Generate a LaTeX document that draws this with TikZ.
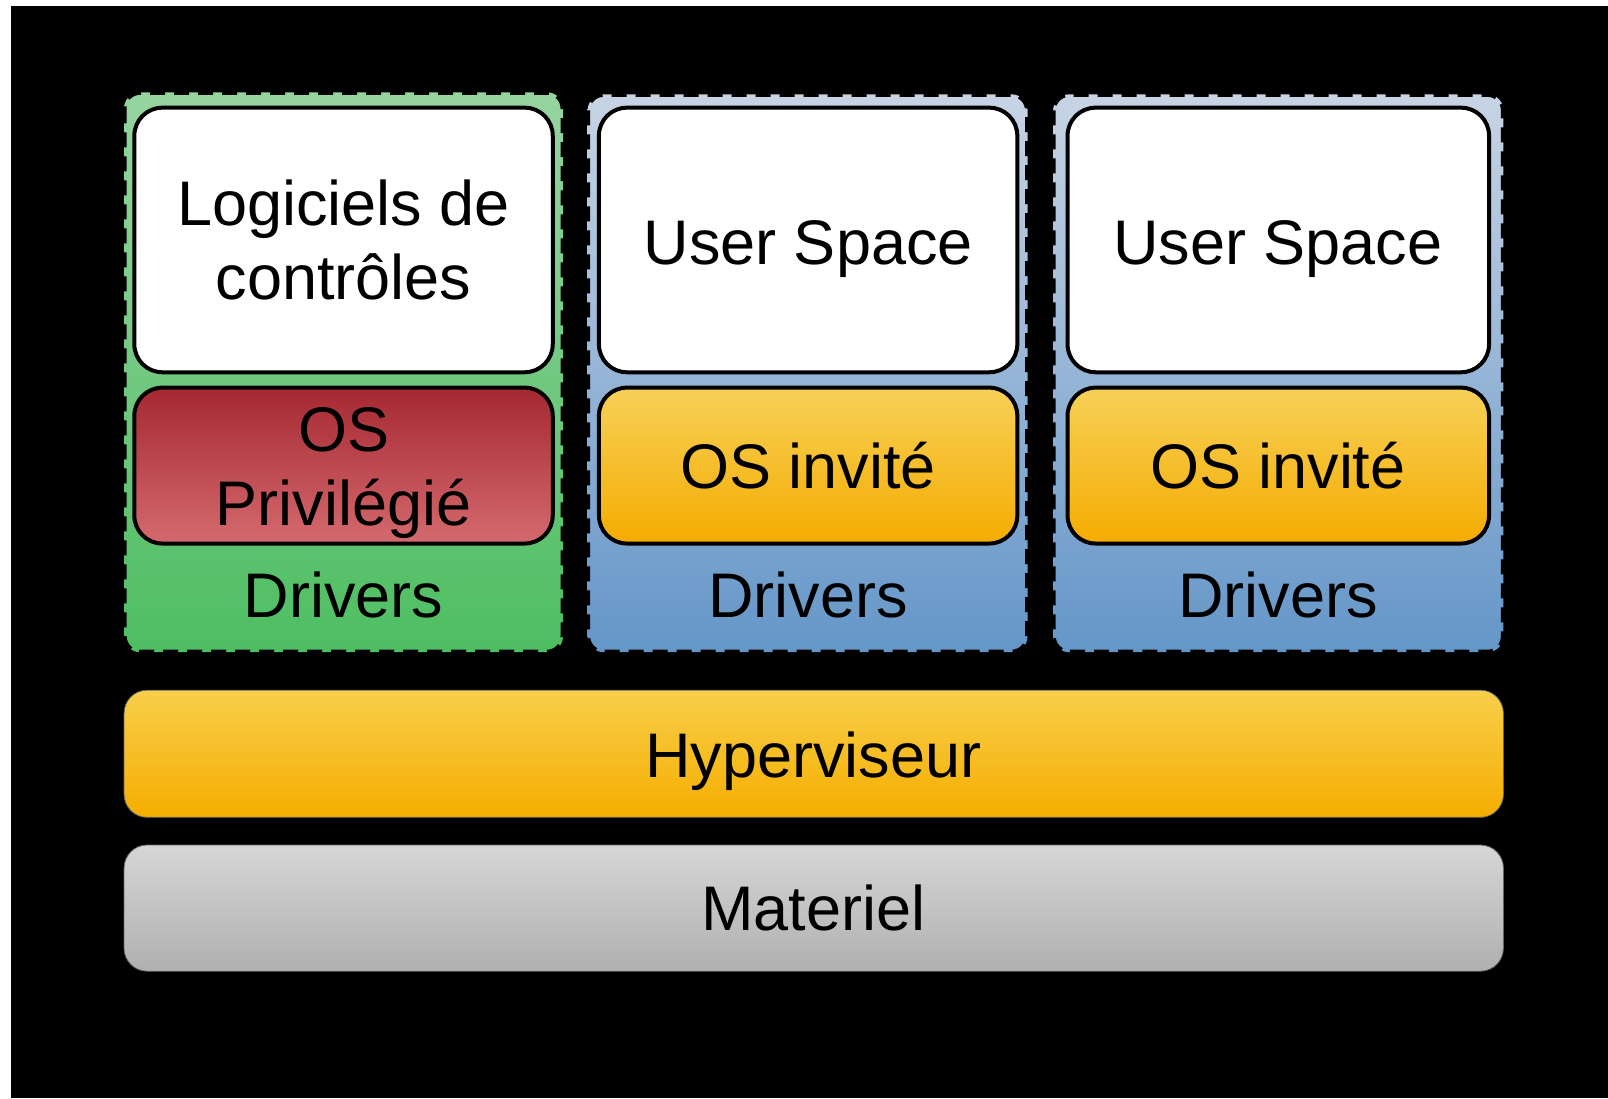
\documentclass[tikz,border=0pt]{standalone}
\usepackage{fontspec}
\setmainfont{Liberation Sans}
\definecolor{gtop}{HTML}{96D4A0}
\definecolor{gbot}{HTML}{4EBE62}
\definecolor{btop}{HTML}{C8D4E4}
\definecolor{bbot}{HTML}{6496C8}
\definecolor{rtop}{HTML}{A52832}
\definecolor{rbot}{HTML}{D46A6E}
\definecolor{otop}{HTML}{F6D058}
\definecolor{obot}{HTML}{F5AC00}
\definecolor{ytop}{HTML}{F7CF4A}
\definecolor{ybot}{HTML}{F5AD00}
\definecolor{ktop}{HTML}{D6D6D6}
\definecolor{kbot}{HTML}{B0B0B0}
\begin{document}
\begin{tikzpicture}[x=1.0255pt,y=-1.0255pt,
  lbl/.style={font=\fontsize{63}{74}\selectfont, text=black, align=center, inner sep=0pt},
  vmbox/.style={rounded corners=16pt, draw=black, line width=5pt, dash pattern=on 15pt off 9pt},
  inbox/.style={rounded corners=28pt, draw=black, line width=4pt, fill=white},
  osbox/.style={rounded corners=28pt, draw=black, line width=4pt},
  band/.style={rounded corners=23pt, draw=black!60, line width=0.8pt}
]
\fill[white] (0,0) rectangle (1568,1070.7);
\fill[black] (10.7,5.85) rectangle (1568,1070.7);
\useasboundingbox (0,0) rectangle (1568,1070.7);

% VM containers
\path[vmbox, top color=gtop, bottom color=gbot] (121,90) rectangle (549,636);
\coordinate (vm1) at (335,363);
\path[vmbox, top color=btop, bottom color=bbot] (573,92) rectangle (1002,636);
\coordinate (vm2) at (787,363);
\path[vmbox, top color=btop, bottom color=bbot] (1027,92) rectangle (1466,636);
\coordinate (vm3) at (1246,363);

% user space boxes
\draw[inbox] (131,105) rectangle (539,363);
\draw[inbox] (584,105) rectangle (992,363);
\draw[inbox] (1041,105) rectangle (1452,363);

% OS boxes
\draw[osbox, top color=rtop, bottom color=rbot] (131,378) rectangle (539,530);
\draw[osbox, top color=otop, bottom color=obot] (584,378) rectangle (992,530);
\draw[osbox, top color=otop, bottom color=obot] (1041,378) rectangle (1452,530);

% bands
\path[band, top color=ytop, bottom color=ybot] (121,673) rectangle (1466,797);
\path[band, top color=ktop, bottom color=kbot] (121,824) rectangle (1466,947);

% labels
\node[lbl, anchor=base] (l1a) at (335,220) {Logiciels de};
\node[lbl, anchor=base] (l1b) at (335,292) {contrôles};
\node[lbl, anchor=base] (u2) at (788,258) {User Space};
\node[lbl, anchor=base] (u3) at (1246,258) {User Space};
\node[lbl, anchor=base] (os1a) at (335,440) {OS};
\node[lbl, anchor=base] (os1b) at (335,512) {Privilégié};
\node[lbl, anchor=base] (os2) at (788,476) {OS invité};
\node[lbl, anchor=base] (os3) at (1246,476) {OS invité};
\node[lbl, anchor=base] (d1) at (335,602) {Drivers};
\node[lbl, anchor=base] (d2) at (788,602) {Drivers};
\node[lbl, anchor=base] (d3) at (1246,602) {Drivers};
\node[lbl, anchor=base] (hyp) at (793,758) {Hyperviseur};
\node[lbl, anchor=base] (mat) at (793,907) {Materiel};
\end{tikzpicture}
\end{document}
